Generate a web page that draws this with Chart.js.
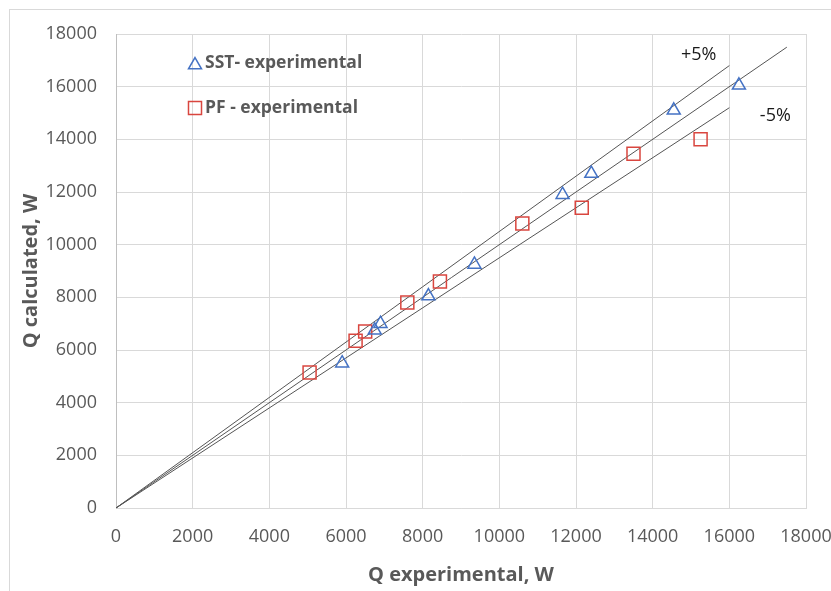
<!DOCTYPE html>
<html>
<head>
<meta charset="utf-8">
<script src="https://cdn.jsdelivr.net/npm/chart.js@4/dist/chart.umd.min.js"></script>
<style>
  html, body { margin: 0; padding: 0; background: #fff; overflow: hidden; }
  #wrap { width: 831px; height: 591px; position: relative; }
</style>
</head>
<body>
<div id="wrap"><canvas id="chart" width="831" height="591"></canvas></div>
<script>
// data
const sstX = [5900, 6750, 6900, 8150, 9350, 11650, 12400, 14550, 16250];
const sstY = [5500, 6750, 7000, 8050, 9250, 11900, 12700, 15100, 16050];
const pfX = [5050, 6250, 6500, 7600, 8450, 10600, 12150, 13500, 15250];
const pfY = [5150, 6350, 6700, 7800, 8600, 10800, 11400, 13450, 14000];

// reference lines (x=y, +5%, -5%)
const lineX = [0, 17500];
const lineY = [0, 17500];
const plusX = [0, 16000];
const plusY = [0, 16800];
const minusX = [0, 16000];
const minusY = [0, 15200];

const tickValues = [0, 2000, 4000, 6000, 8000, 10000, 12000, 14000, 16000, 18000];
const seriesNames = ['SST- experimental', 'PF - experimental'];
const bandLabels = ['+5%', '-5%'];
const bandLabelX = [15200, 17200];
const bandLabelY = [17200, 14900];

const BLUE = '#4472c4';
const RED = '#d9463f';
const GRID = '#d9d9d9';
const TXT = '#595959';
const FONT = "'Open Sans', sans-serif";

function pts(xs, ys) {
  return xs.map((x, i) => ({ x: x, y: ys[i] }));
}

function refLine(xs, ys) {
  return {
    type: 'line',
    data: pts(xs, ys),
    borderColor: '#555555',
    borderWidth: 1,
    pointRadius: 0,
    showLine: true,
    fill: false,
    order: 2
  };
}

// white background + outer frame
const framePlugin = {
  id: 'frame',
  beforeDraw(chart) {
    const ctx = chart.ctx;
    ctx.save();
    ctx.fillStyle = '#fff';
    ctx.fillRect(0, 0, chart.width, chart.height);
    ctx.strokeStyle = GRID;
    ctx.lineWidth = 1;
    ctx.strokeRect(9.5, 9.5, 1000, 1000);
    ctx.restore();
  }
};

// legend inside the plot + band labels
const notesPlugin = {
  id: 'notes',
  afterDatasetsDraw(chart) {
    const ctx = chart.ctx;
    const area = chart.chartArea;
    const xs = chart.scales.x, ys = chart.scales.y;
    ctx.save();

    // band labels
    ctx.font = "18px " + FONT;
    ctx.fillStyle = '#1a1a1a';
    ctx.textAlign = 'center';
    ctx.textBaseline = 'middle';
    bandLabels.forEach(function(t, i) {
      ctx.fillText(t, xs.getPixelForValue(bandLabelX[i]), ys.getPixelForValue(bandLabelY[i]));
    });

    // legend
    const styles = [
      { pointStyle: 'triangle', radius: 7.5, rotation: 0, borderWidth: 1.5 },
      { pointStyle: 'rect', radius: 9.2, rotation: 0, borderWidth: 1.5 }
    ];
    const colors = [BLUE, RED];
    ctx.font = "bold 17.5px " + FONT;
    ctx.textAlign = 'left';
    seriesNames.forEach(function(name, i) {
      const mx = area.left + 79;
      const my = area.top + 29 + i * 45;
      ctx.strokeStyle = colors[i];
      ctx.fillStyle = 'rgba(0,0,0,0)';
      ctx.lineWidth = 1.5;
      Chart.helpers.drawPoint(ctx, styles[i], mx, my + (i === 0 ? 2 : 0));
      ctx.fillStyle = TXT;
      ctx.fillText(name, mx + 10, my);
    });
    ctx.restore();
  }
};

new Chart(document.getElementById('chart'), {
  type: 'scatter',
  data: {
    datasets: [
      {
        label: seriesNames[0],
        data: pts(sstX, sstY),
        pointStyle: 'triangle',
        pointRadius: 7.5,
        pointHoverRadius: 7.5,
        pointBorderWidth: 1.5,
        borderColor: BLUE,
        backgroundColor: 'rgba(0,0,0,0)',
        order: 1
      },
      {
        label: seriesNames[1],
        data: pts(pfX, pfY),
        pointStyle: 'rect',
        pointRadius: 9.2,
        pointHoverRadius: 9.2,
        pointBorderWidth: 1.5,
        borderColor: RED,
        backgroundColor: 'rgba(0,0,0,0)',
        order: 1
      },
      refLine(lineX, lineY),
      refLine(plusX, plusY),
      refLine(minusX, minusY)
    ]
  },
  options: {
    responsive: false,
    animation: false,
    events: [],
    layout: { padding: { top: 34, right: 25, left: 0, bottom: 0 } },
    plugins: {
      legend: { display: false },
      tooltip: { enabled: false }
    },
    scales: {
      x: {
        type: 'linear',
        min: 0,
        max: 18000,
        afterBuildTicks: function(s) { s.ticks = tickValues.map(v => ({ value: v })); },
        afterFit: function(s) { s.height = 83; s.paddingLeft = 0; s.paddingRight = 0; },
        grid: { color: GRID, drawTicks: false },
        border: { color: GRID },
        ticks: {
          color: TXT,
          font: { family: FONT, size: 18 },
          padding: 18,
          maxRotation: 0,
          autoSkip: false,
          callback: function(v) { return String(v); }
        },
        title: {
          display: true,
          text: 'Q experimental, W',
          color: TXT,
          font: { family: FONT, size: 20, weight: 'bold' },
          padding: { top: 0, bottom: 4 }
        }
      },
      y: {
        type: 'linear',
        min: 0,
        max: 18000,
        afterBuildTicks: function(s) { s.ticks = tickValues.map(v => ({ value: v })); },
        afterFit: function(s) { s.width = 116; s.paddingTop = 0; s.paddingBottom = 0; },
        grid: { color: GRID, drawTicks: false },
        border: { color: '#bfbfbf' },
        ticks: {
          color: TXT,
          font: { family: FONT, size: 18 },
          padding: 19,
          autoSkip: false,
          callback: function(v) { return String(v); }
        },
        title: {
          display: true,
          text: 'Q calculated, W',
          color: TXT,
          font: { family: FONT, size: 20, weight: 'bold' },
          padding: { top: 19, bottom: 0 }
        }
      }
    }
  },
  plugins: [framePlugin, notesPlugin]
});
</script>
</body>
</html>
